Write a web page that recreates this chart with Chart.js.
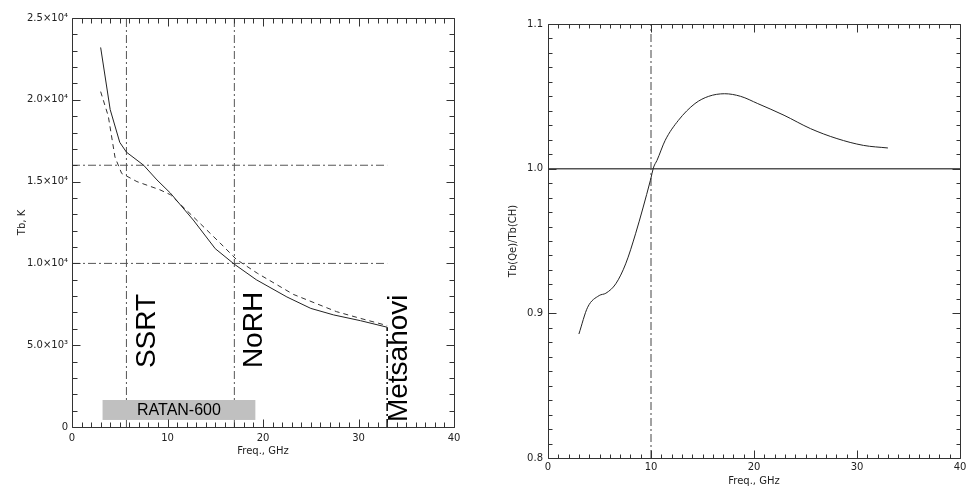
<!DOCTYPE html>
<html>
<head>
<meta charset="utf-8">
<script src="https://cdn.jsdelivr.net/npm/chart.js@4/dist/chart.umd.min.js"></script>
<style>
  body { margin: 0; background: #fff; overflow: hidden; }
  .panel { position: absolute; top: 0; height: 487px; width: 484px; }
  #left { left: 0; }
  #right { left: 484px; }
</style>
</head>
<body>
<div class="panel" id="left"><canvas id="tbChart"></canvas></div>
<div class="panel" id="right"><canvas id="ratioChart"></canvas></div>
<script>
// left panel: brightness temperature, two models
const freqSolid = [3, 4, 5, 5.7, 7.5, 8.9, 10.3, 12.7, 15, 17, 19.3, 22.5, 25, 27.4, 30.2, 33];
const tbSolid = [23200, 19400, 17400, 16800, 16000, 15100, 14300, 12650, 10900, 9950, 9000, 7950, 7250, 6850, 6500, 6100];
const freqDashed = [3, 3.8, 4.5, 5.2, 6.8, 9.2, 10.3, 12.7, 15.5, 17.2, 19.4, 23.2, 27.7, 30.2, 33];
const tbDashed = [20500, 19000, 16500, 15500, 15000, 14500, 14200, 12850, 11250, 10250, 9400, 8100, 7050, 6640, 6200];

// reference levels / instrument frequencies
const tbLevels = [16000, 10000];
const instrumentFreqs = [5.7, 17];
const metsahoviFreq = 33;
const metsahoviTb = 6100;
const ratanRange = [3.2, 19.2];
const ratanTb = [430, 1650];

// right panel: ratio Tb(Qe)/Tb(CH)
const freqRatio = [3, 3.85, 4.97, 5.62, 6.58, 7.54, 8.5, 9.94, 10.26, 10.58, 11.38, 12.66, 14.27, 15.6, 17.15, 18.7, 20.36, 22.92, 25.48, 28.05, 30.62, 33];
const ratio = [0.8857, 0.9042, 0.9123, 0.9139, 0.9204, 0.9342, 0.955, 0.9919, 1.0011, 1.0057, 1.0196, 1.0334, 1.045, 1.05, 1.0518, 1.05, 1.045, 1.0369, 1.0277, 1.0208, 1.0161, 1.0143];
const ratioLevel = 1.0;
const ratioMarkFreq = 10;

const xTicks = [0, 10, 20, 30, 40];

const toPoints = (xs, ys) => xs.map((x, i) => ({ x, y: ys[i] }));
const dashDot = [8, 3, 2, 3];
const tickFont = { family: 'DejaVu Sans', size: 10 };
const titleFont = { family: 'DejaVu Sans', size: 10, lineHeight: 1 };

const sup = { '0': '⁰', '1': '¹', '2': '²', '3': '³', '4': '⁴', '5': '⁵', '6': '⁶', '7': '⁷', '8': '⁸', '9': '⁹' };
function sciLabel(v) {
  if (v === 0) return '0';
  const e = Math.floor(Math.log10(v));
  const m = (v / Math.pow(10, e)).toFixed(1);
  return m + '×10' + String(e).split('').map(c => sup[c]).join('');
}

// box frame with inward ticks, IDL style
const frameTicks = {
  id: 'frameTicks',
  afterDraw(chart, args, o) {
    const { ctx, chartArea: a, scales: { x, y } } = chart;
    ctx.save();
    ctx.strokeStyle = '#333';
    ctx.lineWidth = 1;
    ctx.beginPath();
    const L = Math.round(a.left) + 0.5, R = Math.round(a.right) + 0.5;
    const T = Math.round(a.top) + 0.5, B = Math.round(a.bottom) + 0.5;
    ctx.rect(L, T, R - L, B - T);
    let n = Math.round((x.max - x.min) / o.xMinor);
    for (let i = 0; i <= n; i++) {
      const v = x.min + i * o.xMinor;
      const major = Math.abs(v / o.xMajor - Math.round(v / o.xMajor)) < 1e-6;
      const len = major ? o.majorLen : o.minorLen;
      const px = Math.round(x.getPixelForValue(v)) + 0.5;
      ctx.moveTo(px, B); ctx.lineTo(px, B - len);
      ctx.moveTo(px, T); ctx.lineTo(px, T + len);
    }
    n = Math.round((y.max - y.min) / o.yMinor);
    for (let i = 0; i <= n; i++) {
      const v = y.min + i * o.yMinor;
      const major = Math.abs((v - y.min) / o.yMajor - Math.round((v - y.min) / o.yMajor)) < 1e-6;
      const len = major ? o.majorLen : o.minorLen;
      const py = Math.round(y.getPixelForValue(v)) + 0.5;
      ctx.moveTo(L, py); ctx.lineTo(L + len, py);
      ctx.moveTo(R, py); ctx.lineTo(R - len, py);
    }
    ctx.stroke();
    ctx.restore();
  }
};

// RATAN-600 band and instrument names on the left panel
const instrumentLabels = {
  id: 'instrumentLabels',
  afterDatasetsDraw(chart) {
    const { ctx, scales: { x, y } } = chart;
    ctx.save();
    const x0 = x.getPixelForValue(ratanRange[0]), x1 = x.getPixelForValue(ratanRange[1]);
    const y0 = y.getPixelForValue(ratanTb[1]), y1 = y.getPixelForValue(ratanTb[0]);
    ctx.fillStyle = '#c0c0c0';
    ctx.fillRect(x0, y0, x1 - x0, y1 - y0);
    ctx.fillStyle = '#000';
    ctx.font = '16px "Liberation Sans", Arial, sans-serif';
    ctx.textAlign = 'center';
    ctx.textBaseline = 'middle';
    ctx.fillText('RATAN-600', (x0 + x1) / 2, (y0 + y1) / 2 + 1);

    const names = [['SSRT', 8.7, 3600], ['NoRH', 19.9, 3600], ['Metsahovi', 35.1, 300]];
    ctx.font = '28px "Liberation Sans", Arial, sans-serif';
    ctx.textAlign = 'left';
    ctx.textBaseline = 'alphabetic';
    names.forEach(([t, fx, ty]) => {
      ctx.save();
      ctx.translate(x.getPixelForValue(fx), y.getPixelForValue(ty));
      ctx.rotate(-Math.PI / 2);
      ctx.fillText(t, 0, 0);
      ctx.restore();
    });
    ctx.restore();
  }
};

const lineDefaults = { showLine: true, pointRadius: 0, fill: false, borderWidth: 1 };

const tbDatasets = [
  { ...lineDefaults, data: toPoints(freqSolid, tbSolid), borderColor: '#222' },
  { ...lineDefaults, data: toPoints(freqDashed, tbDashed), borderColor: '#333', borderDash: [5, 4] },
  ...tbLevels.map(t => ({ ...lineDefaults, data: [{ x: 0, y: t }, { x: metsahoviFreq, y: t }], borderColor: '#555', borderDash: dashDot })),
  ...instrumentFreqs.map(f => ({ ...lineDefaults, data: [{ x: f, y: 0 }, { x: f, y: 25000 }], borderColor: '#555', borderDash: dashDot })),
  { ...lineDefaults, data: [{ x: metsahoviFreq, y: 0 }, { x: metsahoviFreq, y: metsahoviTb }], borderColor: '#000', borderWidth: 1.5, borderDash: dashDot },
];

new Chart(document.getElementById('tbChart').getContext('2d'), {
  type: 'scatter',
  data: { datasets: tbDatasets },
  plugins: [frameTicks, instrumentLabels],
  options: {
    responsive: true,
    maintainAspectRatio: false,
    animation: false,
    layout: { padding: { left: 0, right: 30, top: 18, bottom: 0 } },
    plugins: {
      legend: { display: false },
      tooltip: { enabled: false },
      frameTicks: { xMinor: 1, xMajor: 10, yMinor: 1000, yMajor: 5000, majorLen: 8, minorLen: 5 },
    },
    scales: {
      x: {
        type: 'linear', min: 0, max: 40,
        afterBuildTicks: axis => { axis.ticks = xTicks.map(v => ({ value: v })); },
        ticks: { font: tickFont, color: '#222', padding: 5, maxRotation: 0 },
        grid: { display: false, drawTicks: false },
        border: { display: false },
        title: { display: true, text: 'Freq., GHz', font: titleFont, color: '#222', padding: { top: 0, bottom: 31 } },
        afterFit: axis => { axis.height = 60; axis.paddingLeft = 0; axis.paddingRight = 0; },
      },
      y: {
        type: 'linear', min: 0, max: 25000,
        ticks: { stepSize: 5000, font: tickFont, color: '#222', padding: 4, callback: v => sciLabel(v) },
        grid: { display: false, drawTicks: false },
        border: { display: false },
        title: { display: true, text: 'Tb, K', font: titleFont, color: '#222', padding: { top: 17, bottom: 0 } },
        afterFit: axis => { axis.width = 72; axis.paddingTop = 0; axis.paddingBottom = 0; },
      },
    },
  },
});

const ratioDatasets = [
  { ...lineDefaults, data: toPoints(freqRatio, ratio), borderColor: '#222', cubicInterpolationMode: 'monotone' },
  { ...lineDefaults, data: [{ x: 0, y: ratioLevel }, { x: 40, y: ratioLevel }], borderColor: '#555', borderWidth: 1.5 },
  { ...lineDefaults, data: [{ x: ratioMarkFreq, y: 0.8 }, { x: ratioMarkFreq, y: 1.1 }], borderColor: '#444', borderDash: dashDot },
];

new Chart(document.getElementById('ratioChart').getContext('2d'), {
  type: 'scatter',
  data: { datasets: ratioDatasets },
  plugins: [frameTicks],
  options: {
    responsive: true,
    maintainAspectRatio: false,
    animation: false,
    layout: { padding: { left: 0, right: 8, top: 24, bottom: 0 } },
    plugins: {
      legend: { display: false },
      tooltip: { enabled: false },
      frameTicks: { xMinor: 1, xMajor: 10, yMinor: 0.01, yMajor: 0.1, majorLen: 8, minorLen: 4 },
    },
    scales: {
      x: {
        type: 'linear', min: 0, max: 40,
        afterBuildTicks: axis => { axis.ticks = xTicks.map(v => ({ value: v })); },
        ticks: { font: tickFont, color: '#222', padding: 3, maxRotation: 0 },
        grid: { display: false, drawTicks: false },
        border: { display: false },
        title: { display: true, text: 'Freq., GHz', font: titleFont, color: '#222', padding: { top: 0, bottom: 1 } },
        afterFit: axis => { axis.height = 29; axis.paddingLeft = 0; axis.paddingRight = 0; },
      },
      y: {
        type: 'linear', min: 0.8, max: 1.1,
        afterBuildTicks: axis => { axis.ticks = [0.8, 0.9, 1.0, 1.1].map(v => ({ value: v })); },
        ticks: { font: tickFont, color: '#222', padding: 5, callback: v => v.toFixed(1) },
        grid: { display: false, drawTicks: false },
        border: { display: false },
        title: { display: true, text: 'Tb(Qe)/Tb(CH)', font: titleFont, color: '#222', padding: { top: 24, bottom: 0 } },
        afterFit: axis => { axis.width = 64; axis.paddingTop = 0; axis.paddingBottom = 0; },
      },
    },
  },
});
</script>
</body>
</html>
